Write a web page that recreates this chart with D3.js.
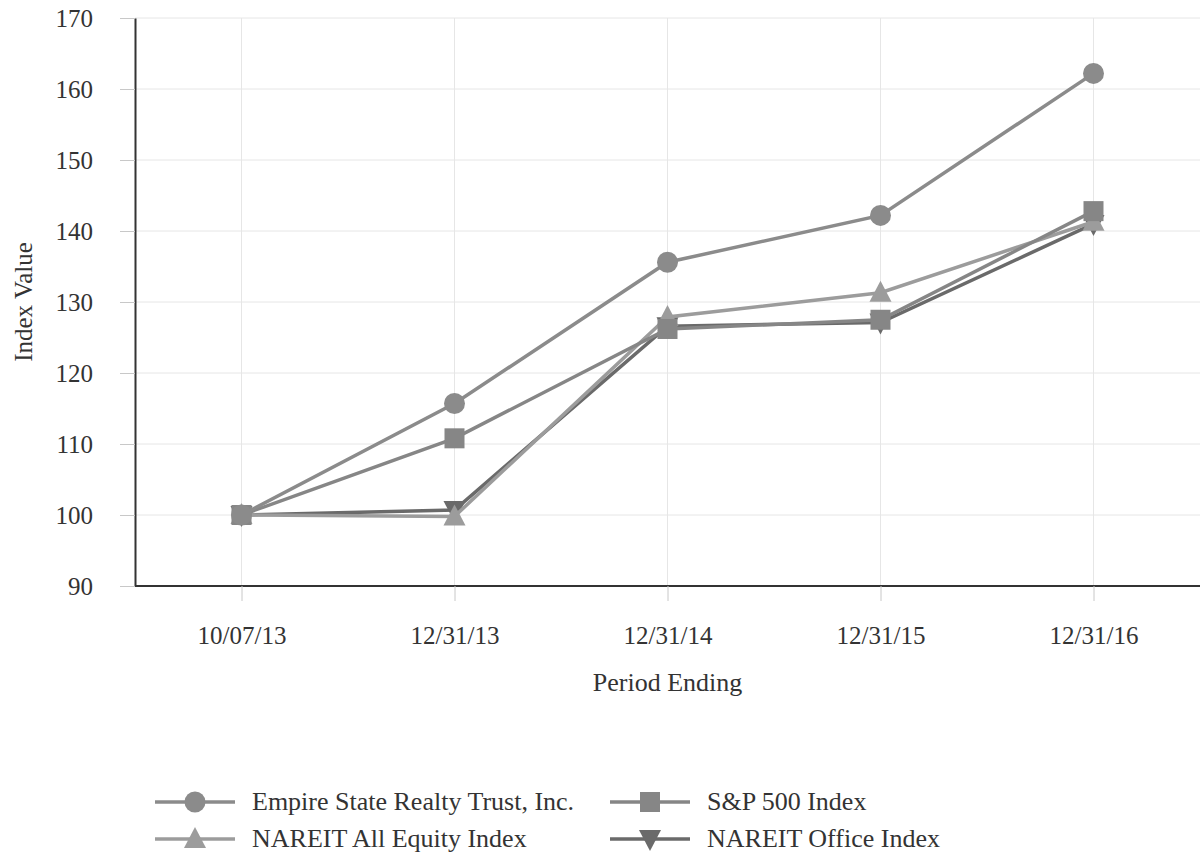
<!DOCTYPE html>
<html>
<head>
<meta charset="utf-8">
<script src="https://cdn.jsdelivr.net/npm/d3@7"></script>
<style>
  body { margin: 0; background: #fff; }
  text { font-family: "Liberation Serif", "Times New Roman", serif; fill: #333; }
</style>
</head>
<body>
<div id="chart"></div>
<script>
// Data
const periods = ["10/07/13", "12/31/13", "12/31/14", "12/31/15", "12/31/16"];
const empire = [100, 115.7, 135.6, 142.2, 162.2];
const sp500 = [100, 110.8, 126.2, 127.5, 142.8];
const nareitAll = [100, 99.8, 127.9, 131.3, 141.3];
const nareitOffice = [100, 100.7, 126.6, 127.1, 141.0];
const yTicks = [90, 100, 110, 120, 130, 140, 150, 160, 170];

const series = [
  { name: "Empire State Realty Trust, Inc.", values: empire, color: "#8b8b8b", symbol: "circle" },
  { name: "S&P 500 Index", values: sp500, color: "#868686", symbol: "square" },
  { name: "NAREIT All Equity Index", values: nareitAll, color: "#9c9c9c", symbol: "up" },
  { name: "NAREIT Office Index", values: nareitOffice, color: "#6a6a6a", symbol: "down" },
];

const width = 1202;
const height = 855;
const margin = { top: 18, right: 2, bottom: 269, left: 135 };
const fontSize = "25px";

const svg = d3.select("#chart")
  .append("svg")
  .attr("width", width)
  .attr("height", height);

const x = d3.scalePoint()
  .domain(periods)
  .range([margin.left, width - margin.right])
  .padding(0.5);

const y = d3.scaleLinear()
  .domain([90, 170])
  .range([height - margin.bottom, margin.top]);

// Grid lines
svg.append("g")
  .selectAll("line")
  .data(yTicks.slice(1))
  .join("line")
  .attr("x1", margin.left)
  .attr("x2", width - margin.right)
  .attr("y1", d => y(d))
  .attr("y2", d => y(d))
  .attr("stroke", "#e6e6e6")
  .attr("stroke-width", 1);

svg.append("g")
  .selectAll("line")
  .data(periods)
  .join("line")
  .attr("x1", d => x(d))
  .attr("x2", d => x(d))
  .attr("y1", margin.top)
  .attr("y2", height - margin.bottom)
  .attr("stroke", "#e6e6e6")
  .attr("stroke-width", 1);

// Y axis
const yAxis = svg.append("g")
  .attr("transform", `translate(${margin.left},0)`)
  .call(d3.axisLeft(y).tickValues(yTicks).tickSize(15).tickPadding(27).tickSizeOuter(0));
yAxis.select(".domain").attr("stroke", "#333").attr("stroke-width", 2);
yAxis.selectAll(".tick line").attr("stroke", "#c8c8c8");
yAxis.selectAll(".tick text")
  .style("font-size", fontSize)
  .style("font-family", "Liberation Serif, serif")
  .attr("fill", "#333");

// X axis
const xAxis = svg.append("g")
  .attr("transform", `translate(0,${height - margin.bottom})`)
  .call(d3.axisBottom(x).tickSize(15).tickPadding(25).tickSizeOuter(0));
xAxis.select(".domain").attr("stroke", "#333").attr("stroke-width", 2)
  .attr("d", `M${margin.left},0H${width - margin.right}`);
xAxis.selectAll(".tick line").attr("stroke", "#c8c8c8");
xAxis.selectAll(".tick text")
  .style("font-size", fontSize)
  .style("font-family", "Liberation Serif, serif")
  .attr("fill", "#333");

// Axis titles
svg.append("text")
  .attr("transform", `translate(32,${(margin.top + height - margin.bottom) / 2}) rotate(-90)`)
  .attr("text-anchor", "middle")
  .style("font-size", fontSize)
  .text("Index Value");

svg.append("text")
  .attr("x", (margin.left + width - margin.right) / 2)
  .attr("y", 691)
  .attr("text-anchor", "middle")
  .style("font-size", "26px")
  .text("Period Ending");

// Marker shapes
function drawSymbol(g, kind, cx, cy, color) {
  if (kind === "circle") {
    g.append("circle").attr("cx", cx).attr("cy", cy).attr("r", 10.5).attr("fill", color);
  } else if (kind === "square") {
    g.append("rect").attr("x", cx - 10).attr("y", cy - 10).attr("width", 20).attr("height", 20).attr("fill", color);
  } else if (kind === "up") {
    g.append("path").attr("d", `M${cx},${cy - 12}L${cx + 11},${cy + 9}L${cx - 11},${cy + 9}Z`).attr("fill", color);
  } else {
    g.append("path").attr("d", `M${cx},${cy + 12}L${cx + 11},${cy - 9}L${cx - 11},${cy - 9}Z`).attr("fill", color);
  }
}

const line = d3.line()
  .x((d, i) => x(periods[i]))
  .y(d => y(d));

// Draw back to front so the darker office line sits on top
const drawOrder = [series[3], series[2], series[1], series[0]];
drawOrder.forEach(s => {
  const g = svg.append("g");
  g.append("path")
    .datum(s.values)
    .attr("d", line)
    .attr("fill", "none")
    .attr("stroke", s.color)
    .attr("stroke-width", 3.5);
  s.values.forEach((v, i) => drawSymbol(g, s.symbol, x(periods[i]), y(v), s.color));
});

// Legend
const legendItems = [
  { s: series[0], lx: 155, ly: 802 },
  { s: series[1], lx: 610, ly: 802 },
  { s: series[2], lx: 155, ly: 839 },
  { s: series[3], lx: 610, ly: 839 },
];
legendItems.forEach(item => {
  const g = svg.append("g");
  g.append("line")
    .attr("x1", item.lx).attr("x2", item.lx + 80)
    .attr("y1", item.ly).attr("y2", item.ly)
    .attr("stroke", item.s.color)
    .attr("stroke-width", 3.5);
  drawSymbol(g, item.s.symbol, item.lx + 40, item.ly, item.s.color);
  g.append("text")
    .attr("x", item.lx + 97)
    .attr("y", item.ly + 8)
    .style("font-size", "26px")
    .text(item.s.name);
});
</script>
</body>
</html>
